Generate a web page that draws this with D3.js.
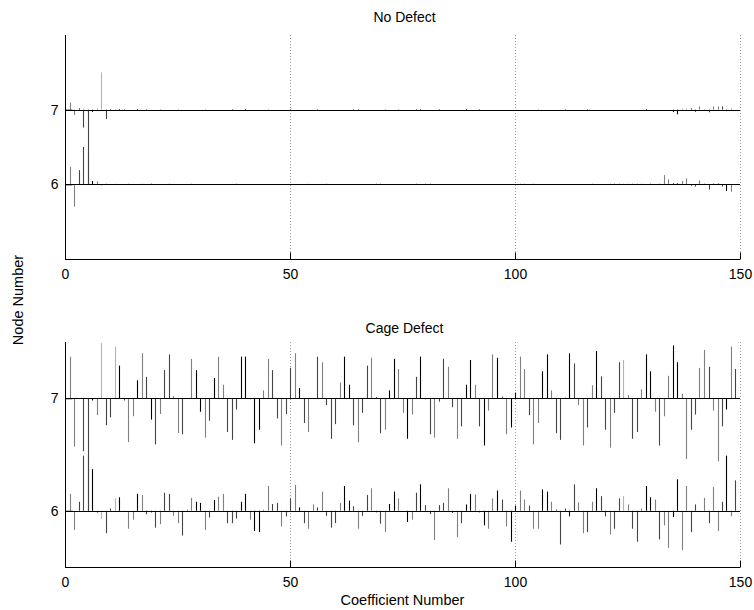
<!DOCTYPE html>
<html><head><meta charset="utf-8">
<script src="https://cdn.jsdelivr.net/npm/d3@7/dist/d3.min.js"></script>
<style>body{margin:0;background:#fff}svg{display:block}text{font-family:"Liberation Sans",Arial,sans-serif;fill:#000}</style>
</head><body>
<script>
// ---------- DATA ----------
const coefficients = d3.range(1, 151);
const xTicks = [0, 50, 100, 150];
const nodeTicks = [6, 7];
const titles = ["No Defect", "Cage Defect"];
const xLabel = "Coefficient Number";
const yLabel = "Node Number";

// No Defect, node 7 (offsets from baseline 7)
const noDefectNode7 = [
 .095,-.07,.02,-.24,-1.0,-.03,.015,.50,-.125,.01,
 .008,.01,.008,0,0,.008,0,.008,0,0,
 .008,0,0,0,.008,0,0,0,0,0,
 .008,0,0,0,0,0,.008,0,0,.008,
 0,0,0,0,.008,0,0,0,0,.008,
 0,0,0,0,0,.008,0,0,0,0,
 0,0,0,.008,.008,0,0,0,0,0,
 .008,0,0,.008,0,0,0,.008,.008,0,
 0,0,.008,0,0,0,0,0,.008,0,
 0,.008,0,0,0,0,0,0,0,0,
 0,0,0,0,.008,0,0,0,0,0,
 .008,0,0,0,0,.008,0,0,0,0,
 0,0,0,0,0,0,0,0,.008,0,
 0,0,0,0,-.03,-.062,.013,.013,.018,-.03,
 .044,-.018,-.035,.044,.044,.044,-.02,.013,0,0
];
// No Defect, node 6
const noDefectNode6 = [
 .236,-.30,.19,.50,.45,.044,.04,-.02,.008,0,
 .008,0,0,.008,0,0,.008,0,.008,0,
 0,0,.008,0,0,0,0,.008,0,0,
 0,0,0,0,0,0,0,.008,0,0,
 0,0,0,0,0,0,0,0,0,0,
 0,0,0,.008,0,0,0,.008,0,0,
 0,0,0,0,0,0,0,0,.008,.008,
 0,0,0,0,0,0,0,.008,0,.008,
 .008,0,0,0,0,0,0,0,0,0,
 0,0,0,0,0,0,0,0,0,0,
 .008,.008,0,.008,0,0,0,0,0,0,
 0,0,0,0,0,0,.008,0,0,0,
 .008,.008,.008,.008,.008,.008,.008,.008,0,.008,
 0,.008,.124,.067,.013,.013,.045,.08,-.02,-.03,
 .053,.01,-.07,.013,.018,-.03,-.09,-.10,-.01,0
];
// Cage Defect, node 7
const cageNode7 = [
 .37,-.43,0,-.47,-1.0,-.02,-.15,.49,-.24,-.17,
 .46,.29,-.02,-.39,-.16,.16,.40,.19,-.19,-.41,
 -.14,.25,.39,.02,-.31,-.32,0,.35,.25,-.12,
 -.35,-.20,.18,.37,.12,-.30,-.37,-.10,.37,.37,
 -.01,-.40,-.28,.07,.35,.25,-.18,-.42,-.14,.27,
 .40,.09,-.22,-.30,0,.37,.32,-.06,-.36,-.23,
 .14,.37,.12,-.24,-.39,-.13,.29,.36,.01,-.31,
 -.28,.07,.35,.26,-.13,-.36,-.145,.19,.37,-.01,
 -.32,-.35,-.03,.35,.28,-.08,-.36,-.25,.12,.34,
 .12,-.25,-.42,-.11,.39,.36,.015,-.32,-.26,.05,
 .37,.26,-.15,-.41,-.22,.24,.39,.07,-.31,-.37,
 .005,.40,.31,-.06,-.42,-.26,.115,.42,.195,-.28,
 -.44,-.13,.32,.34,.03,-.36,-.30,.08,.39,.24,
 -.12,-.42,-.16,.20,.47,.32,.04,-.54,-.28,-.145,
 .27,.43,.28,-.11,-.56,-.25,-.10,.46,.26,0
];
// Cage Defect, node 6
const cageNode6 = [
 .15,-.17,.08,.49,.5,.37,-.02,-.07,-.20,.02,
 .11,.12,-.01,-.16,-.08,.15,.14,-.03,-.015,-.15,
 -.12,.16,.15,-.045,-.11,-.22,.01,.115,.08,.07,
 -.17,-.06,.095,.125,.15,-.11,-.11,-.07,.08,.15,
 -.08,-.18,-.19,.01,.22,.06,.07,-.14,-.05,.11,
 .23,.03,-.11,-.16,.056,.03,.17,-.045,-.15,-.11,
 .07,.22,.09,.04,-.16,-.045,.14,.20,-.015,-.115,
 -.19,.06,.17,.11,0,-.10,-.08,.16,.235,.05,
 -.03,-.26,.05,.07,.20,-.02,-.235,-.11,.056,.15,
 .145,-.015,-.13,-.16,.11,.18,.10,-.14,-.275,.045,
 .18,.10,.045,-.16,-.16,.19,.17,.08,.01,-.30,
 .02,-.05,.235,.075,-.20,-.19,.08,.20,.13,-.05,
 -.21,-.16,.11,.13,.056,-.16,-.275,.02,.22,.12,
 .10,-.255,-.13,-.33,-.056,.28,-.35,.22,-.19,.056,
 -.01,.115,-.11,.21,-.18,.08,.49,-.05,.27,0
];
// shade level per coefficient (0 black .. 3 light)
const shadeLevel = [
 2,2,1,1,1,0,2,3,1,1, 3,0,1,2,2,0,2,1,0,1, 2,1,1,2,2,1,2,2,0,0,
 2,1,0,2,2,1,1,1,0,0, 2,0,0,2,2,1,1,2,1,1, 2,0,1,2,2,1,2,1,1,1,
 2,0,0,1,2,1,1,2,1,1, 2,0,0,2,2,0,2,1,0,1, 1,2,1,1,2,1,2,1,0,0,
 2,1,0,2,2,0,1,2,0,0, 2,2,1,2,2,0,0,2,1,1, 1,0,1,2,2,1,2,0,1,1,
 2,1,1,3,2,1,1,2,0,0, 2,1,2,2,0,0,2,2,1,1, 2,2,1,2,2,1,0,2,1,1
];
const shades = ["#000000", "#444444", "#808080", "#b4b4b4"];

// ---------- DRAW ----------
const W = 754, H = 610;
const svg = d3.select("body").append("svg").attr("width", W).attr("height", H);
const FONT = "Liberation Sans, Arial, sans-serif";

const panels = [
  {title: titles[0], top: 35, bottom: 259, domain: [5, 8], s7: noDefectNode7, s6: noDefectNode6, titleY: 22},
  {title: titles[1], top: 342, bottom: 567, domain: [5.5, 7.5], s7: cageNode7, s6: cageNode6, titleY: 333}
];
const left = 65, right = 740;
const x = d3.scaleLinear().domain([0, 150]).range([left, right]);

panels.forEach(p => {
  const y = d3.scaleLinear().domain(p.domain).range([p.bottom, p.top]);
  const g = svg.append("g");

  g.selectAll(".grid").data(xTicks.filter(t => t > 0)).enter().append("line")
    .attr("x1", d => Math.round(x(d)) + 0.5).attr("x2", d => Math.round(x(d)) + 0.5)
    .attr("y1", p.top).attr("y2", p.bottom)
    .attr("stroke", "#999").attr("stroke-width", 1).attr("stroke-dasharray", "1,2");

  [[6, p.s6], [7, p.s7]].forEach(([base, vals]) => {
    g.selectAll(null).data(coefficients.map((c, i) => ({c, v: vals[i], s: shadeLevel[i]})))
      .enter().filter(d => d.v !== 0).append("line")
      .attr("x1", d => Math.round(x(d.c)) + 0.5).attr("x2", d => Math.round(x(d.c)) + 0.5)
      .attr("y1", y(base)).attr("y2", d => y(base + d.v))
      .attr("stroke", d => shades[d.s]).attr("stroke-width", 1.1);
  });
  nodeTicks.forEach(n => {
    g.append("line").attr("x1", left).attr("x2", right)
      .attr("y1", Math.round(y(n)) + 0.5).attr("y2", Math.round(y(n)) + 0.5)
      .attr("stroke", "#000").attr("stroke-width", 1.2);
  });

  const xAxis = d3.axisBottom(x).tickValues(xTicks).tickSize(-7).tickPadding(10).tickFormat(d3.format("d"));
  const ax = g.append("g").attr("transform", `translate(0,${p.bottom + 0.5})`).call(xAxis);
  ax.select(".domain").attr("d", `M${left},0H${right}`).attr("stroke", "#000");
  ax.selectAll("text").attr("font-size", 14).attr("font-family", FONT);

  const yAxis = d3.axisLeft(y).tickValues(nodeTicks).tickSize(-7).tickPadding(7).tickFormat(d3.format("d"));
  const ay = g.append("g").attr("transform", `translate(${left + 0.5},0)`).call(yAxis);
  ay.select(".domain").attr("d", `M0,${p.top}V${p.bottom}`).attr("stroke", "#000");
  ay.selectAll("text").attr("font-size", 14).attr("font-family", FONT);

  g.append("text").attr("x", (left + right) / 2 + 2).attr("y", p.titleY)
    .attr("text-anchor", "middle").attr("font-size", 14).text(p.title);
});

svg.append("text").attr("x", (left + right) / 2).attr("y", 605)
  .attr("text-anchor", "middle").attr("font-size", 14.5).text(xLabel);
svg.append("text").attr("transform", "translate(23,300) rotate(-90)")
  .attr("text-anchor", "middle").attr("font-size", 14.5).text(yLabel);
</script>
</body></html>
